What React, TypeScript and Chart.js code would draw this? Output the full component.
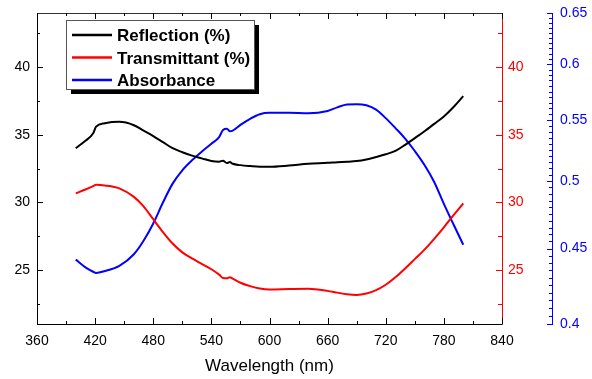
import React, { useEffect, useRef } from "react";
import { Chart, registerables } from "chart.js";

Chart.register(...registerables);

// ---------- data ----------
const seriesNames = ["Reflection (%)", "Transmittant (%)", "Absorbance"];
const seriesColors = ["#000000", "#FF0000", "#0000FF"];

const wavelengths = [
  400, 410, 418, 421, 430, 445, 460, 470, 480, 490, 500, 510, 520, 530, 540, 548,
  552, 556, 559, 562, 570, 580, 590, 600, 620, 640, 660, 670, 680, 690, 700, 710,
  720, 730, 740, 750, 760, 770, 780, 790, 800,
];

const reflection = [
  34.0, 34.55, 35.1, 35.6, 35.85, 35.95, 35.7, 35.3, 34.9, 34.45, 34.0, 33.7, 33.45,
  33.25, 33.05, 33.0, 33.08, 32.9, 32.98, 32.85, 32.75, 32.68, 32.63, 32.63, 32.72,
  32.85, 32.92, 32.97, 33.0, 33.05, 33.17, 33.35, 33.55, 33.8, 34.25, 34.75, 35.25,
  35.8, 36.35, 37.05, 37.85,
];

const transmittance = [
  30.66, 30.95, 31.2, 31.3, 31.25, 31.03, 30.4, 29.7, 28.75, 27.8, 26.95, 26.3, 25.85,
  25.45, 25.05, 24.65, 24.4, 24.38, 24.45, 24.35, 24.05, 23.8, 23.62, 23.55, 23.58,
  23.6, 23.45, 23.32, 23.2, 23.15, 23.25, 23.5, 23.9, 24.45, 25.1, 25.8, 26.5, 27.3,
  28.15, 29.05, 29.92,
];

const absorbance = [
  0.4423, 0.437, 0.434, 0.4332, 0.4345, 0.438, 0.446, 0.4555, 0.468, 0.4835, 0.498,
  0.5085, 0.5165, 0.5235, 0.53, 0.5355, 0.5415, 0.5425, 0.5405, 0.541, 0.5458, 0.551,
  0.555, 0.5562, 0.5562, 0.5558, 0.5578, 0.561, 0.5635, 0.5638, 0.5628, 0.559,
  0.5516, 0.5431, 0.5343, 0.524, 0.5127, 0.4993, 0.4825, 0.4672, 0.4527,
];

const xTickValues = [360, 420, 480, 540, 600, 660, 720, 780, 840];
const pctTickValues = [25, 30, 35, 40];
const absTickValues = [0.4, 0.45, 0.5, 0.55, 0.6, 0.65];

const FONT = "'Liberation Sans', Arial, sans-serif";

const toPoints = (ys: number[]) => wavelengths.map((x, i) => ({ x, y: ys[i] }));

const zeroPad = (s: any) => {
  s.paddingTop = 0;
  s.paddingBottom = 0;
  s.paddingLeft = 0;
  s.paddingRight = 0;
};

// ---------- plugins ----------
const tickPlugin = {
  id: "inwardTicks",
  afterDraw(chart: any) {
    const { ctx, chartArea: ca, scales } = chart;
    const sx = scales.x;
    const sy = scales.y;
    const sr = scales.yR;
    const sb = scales.yB;
    const al = (v: number) => Math.round(v) + 0.5;
    ctx.save();
    ctx.lineWidth = 1;

    // top frame line
    ctx.strokeStyle = "#333333";
    ctx.beginPath();
    ctx.moveTo(ca.left, al(ca.top));
    ctx.lineTo(ca.right + 0.5, al(ca.top));
    ctx.stroke();

    // x ticks (bottom and top), inward
    ctx.strokeStyle = "#000000";
    ctx.beginPath();
    for (let i = 0; i < xTickValues.length; i++) {
      const v = xTickValues[i];
      const px = al(sx.getPixelForValue(v));
      ctx.moveTo(px, ca.bottom);
      ctx.lineTo(px, ca.bottom - 6);
      ctx.moveTo(px, ca.top);
      ctx.lineTo(px, ca.top + 6);
      if (i < xTickValues.length - 1) {
        const m = al(sx.getPixelForValue((v + xTickValues[i + 1]) / 2));
        ctx.moveTo(m, ca.bottom);
        ctx.lineTo(m, ca.bottom - 3);
        ctx.moveTo(m, ca.top);
        ctx.lineTo(m, ca.top + 3);
      }
    }
    ctx.stroke();

    // left axis ticks
    const pctMinors = [22.5, 27.5, 32.5, 37.5, 42.5];
    ctx.beginPath();
    pctTickValues.forEach((v) => {
      const py = al(sy.getPixelForValue(v));
      ctx.moveTo(ca.left, py);
      ctx.lineTo(ca.left + 6, py);
    });
    pctMinors.forEach((v) => {
      const py = al(sy.getPixelForValue(v));
      ctx.moveTo(ca.left, py);
      ctx.lineTo(ca.left + 3, py);
    });
    ctx.stroke();

    // right (red) axis ticks
    ctx.strokeStyle = "#FF0000";
    ctx.beginPath();
    pctTickValues.forEach((v) => {
      const py = al(sr.getPixelForValue(v));
      ctx.moveTo(ca.right, py);
      ctx.lineTo(ca.right - 6, py);
    });
    pctMinors.forEach((v) => {
      const py = al(sr.getPixelForValue(v));
      ctx.moveTo(ca.right, py);
      ctx.lineTo(ca.right - 4, py);
    });
    ctx.stroke();

    // blue axis ticks (pointing left)
    ctx.strokeStyle = "#0000FF";
    const bx = Math.round(sb.left);
    ctx.beginPath();
    for (let k = 0; k <= 50; k++) {
      const v = 0.4 + k * 0.005;
      const py = al(sb.getPixelForValue(v));
      const len = k % 10 === 0 ? 5 : 3;
      ctx.moveTo(bx + 0.5, py);
      ctx.lineTo(bx - len, py);
    }
    ctx.stroke();
    ctx.restore();
  },
};

const legendPlugin = {
  id: "boxLegend",
  afterDraw(chart: any) {
    const { ctx } = chart;
    const x = 66, y = 20, w = 188, h = 69;
    ctx.save();
    ctx.fillStyle = "#000000";
    ctx.fillRect(x + 5, y + 5, w, h);
    ctx.fillStyle = "#FFFFFF";
    ctx.fillRect(x, y, w, h);
    ctx.strokeStyle = "#555555";
    ctx.lineWidth = 1;
    ctx.strokeRect(x + 0.5, y + 0.5, w, h);
    ctx.font = `bold 17px ${FONT}`;
    ctx.textBaseline = "middle";
    ctx.textAlign = "left";
    seriesNames.forEach((name, i) => {
      const ly = 35 + i * 22.5;
      ctx.strokeStyle = seriesColors[i];
      ctx.lineWidth = 2.5;
      ctx.beginPath();
      ctx.moveTo(72, ly);
      ctx.lineTo(112, ly);
      ctx.stroke();
      ctx.fillStyle = "#000000";
      ctx.fillText(name, 117, ly + 1.5);
    });
    ctx.restore();
  },
};

const fmtAbs = (v: number) => String(Math.round(v * 100) / 100);

export default function App() {
  const ref = useRef<HTMLCanvasElement | null>(null);

  useEffect(() => {
    if (!ref.current) return;
    const chart = new Chart(ref.current, {
      type: "line",
      data: {
        datasets: [
          {
            label: seriesNames[0],
            data: toPoints(reflection),
            borderColor: seriesColors[0],
            yAxisID: "y",
          },
          {
            label: seriesNames[1],
            data: toPoints(transmittance),
            borderColor: seriesColors[1],
            yAxisID: "yR",
          },
          {
            label: seriesNames[2],
            data: toPoints(absorbance),
            borderColor: seriesColors[2],
            yAxisID: "yB",
          },
        ],
      },
      options: {
        responsive: false,
        animation: false,
        events: [],
        layout: { padding: { top: 13, left: 0, right: 0, bottom: 0 } },
        elements: {
          point: { radius: 0 },
          line: { borderWidth: 2, cubicInterpolationMode: "monotone", fill: false },
        },
        plugins: {
          legend: { display: false },
          tooltip: { enabled: false },
        },
        scales: {
          x: {
            type: "linear",
            position: "bottom",
            min: 360,
            max: 840,
            bounds: "data",
            afterBuildTicks: (s: any) => {
              s.ticks = xTickValues.map((value) => ({ value }));
            },
            afterFit: (s: any) => {
              s.height = 55;
              zeroPad(s);
            },
            grid: { display: false, drawTicks: false },
            border: { display: true, color: "#000000", width: 1 },
            ticks: {
              color: "#000000",
              padding: 9,
              maxRotation: 0,
              autoSkip: false,
              font: { family: FONT, size: 14 },
              callback: (v: any) => String(v),
            },
            title: {
              display: true,
              text: "Wavelength (nm)",
              color: "#000000",
              font: { family: FONT, size: 17 },
              padding: { top: 0, bottom: 2 },
            },
          },
          y: {
            type: "linear",
            position: "left",
            min: 21,
            max: 44,
            bounds: "data",
            afterBuildTicks: (s: any) => {
              s.ticks = pctTickValues.map((value) => ({ value }));
            },
            afterFit: (s: any) => {
              s.width = 37;
              zeroPad(s);
            },
            grid: { display: false, drawTicks: false },
            border: { display: true, color: "#000000", width: 1 },
            ticks: {
              color: "#000000",
              padding: 7,
              font: { family: FONT, size: 14 },
              callback: (v: any) => String(v),
            },
          },
          yR: {
            type: "linear",
            position: "right",
            weight: 0,
            min: 21,
            max: 44,
            bounds: "data",
            afterBuildTicks: (s: any) => {
              s.ticks = pctTickValues.map((value) => ({ value }));
            },
            afterFit: (s: any) => {
              s.width = 50;
              zeroPad(s);
            },
            grid: { display: false, drawTicks: false },
            border: { display: true, color: "#FF0000", width: 1 },
            ticks: {
              color: "#FF0000",
              padding: 6,
              font: { family: FONT, size: 14 },
              callback: (v: any) => String(v),
            },
          },
          yB: {
            type: "logarithmic",
            position: "right",
            weight: 1,
            min: 0.4,
            max: 0.65,
            bounds: "data",
            afterBuildTicks: (s: any) => {
              s.ticks = absTickValues.map((value) => ({ value }));
            },
            afterFit: (s: any) => {
              s.width = 40;
              zeroPad(s);
            },
            grid: { display: false, drawTicks: false },
            border: { display: true, color: "#0000FF", width: 1 },
            ticks: {
              color: "#0000FF",
              padding: 8,
              autoSkip: false,
              font: { family: FONT, size: 14 },
              callback: (v: any) => fmtAbs(Number(v)),
            },
          },
        },
      },
      plugins: [tickPlugin, legendPlugin],
    } as any);
    return () => chart.destroy();
  }, []);

  return (
    <div style={{ position: "absolute", left: 0, top: 0, width: 592, height: 379, background: "#fff" }}>
      <canvas ref={ref} width={592} height={379} style={{ display: "block" }} />
    </div>
  );
}
